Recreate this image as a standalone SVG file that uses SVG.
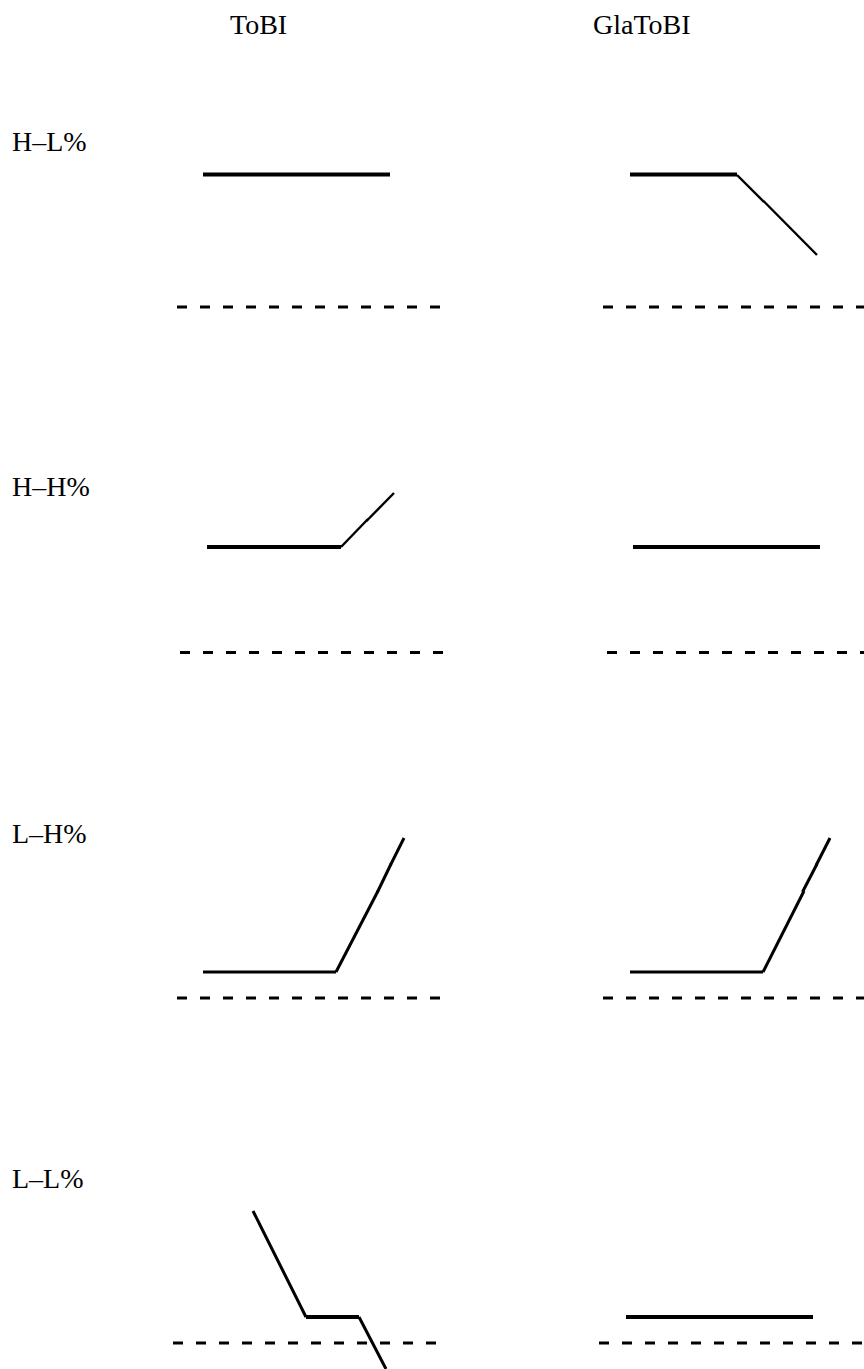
<svg xmlns="http://www.w3.org/2000/svg" width="864" height="1369" viewBox="0 0 864 1369">
<style>
text{font-family:"Liberation Serif","Times New Roman",serif;font-size:28px;fill:#000}
.thick{stroke:#000;stroke-width:4;fill:none}
.mid{stroke:#000;stroke-width:3;fill:none}
.thin{stroke:#000;stroke-width:2.4;fill:none}
.dash{stroke:#000;stroke-width:3;stroke-dasharray:10 13;fill:none}
</style>
<rect width="864" height="1369" fill="#fff"/>
<g id="headers">
<text x="230" y="34">ToBI</text>
<text x="593" y="34">GlaToBI</text>
</g>
<g id="labels">
<text x="12" y="151">H–L%</text>
<text x="12" y="496">H–H%</text>
<text x="12" y="843">L–H%</text>
<text x="12" y="1188">L–L%</text>
</g>
<g id="baselines">
<line class="dash" x1="177" y1="307" x2="445" y2="307"/>
<line class="dash" x1="603" y1="307" x2="864" y2="307"/>
<line class="dash" x1="180" y1="652.5" x2="448" y2="652.5"/>
<line class="dash" x1="607" y1="652.5" x2="864" y2="652.5"/>
<line class="dash" x1="177" y1="998" x2="445" y2="998"/>
<line class="dash" x1="603" y1="998" x2="864" y2="998"/>
<line class="dash" x1="173" y1="1343" x2="441" y2="1343"/>
<line class="dash" x1="599" y1="1343" x2="864" y2="1343"/>
</g>
<g id="tobi-HL">
<line class="thick" x1="203" y1="174.5" x2="390" y2="174.5"/>
</g>
<g id="glatobi-HL">
<line class="thick" x1="630" y1="174.5" x2="737" y2="174.5"/>
<line class="thin" x1="737" y1="175" x2="764" y2="202"/>
<line class="thin" x1="763.5" y1="201" x2="817" y2="255"/>
</g>
<g id="tobi-HH">
<line class="thick" x1="207" y1="547" x2="341" y2="547"/>
<line class="thin" x1="341" y1="547" x2="368" y2="519"/>
<line class="thin" x1="366.5" y1="521" x2="394" y2="493"/>
</g>
<g id="glatobi-HH">
<line class="thick" x1="633" y1="547" x2="820" y2="547"/>
</g>
<g id="tobi-LH">
<line class="mid" x1="203" y1="972" x2="336" y2="972"/>
<line class="mid" x1="336" y1="972" x2="378" y2="891"/>
<line class="mid" x1="377.5" y1="892" x2="391" y2="864"/>
<line class="mid" x1="390.5" y1="865" x2="404" y2="838"/>
</g>
<g id="glatobi-LH">
<line class="mid" x1="630" y1="972" x2="763" y2="972"/>
<line class="mid" x1="763" y1="972" x2="804" y2="891"/>
<line class="mid" x1="802.5" y1="892" x2="817" y2="864"/>
<line class="mid" x1="816" y1="865.5" x2="830" y2="838"/>
</g>
<g id="tobi-LL">
<polyline class="mid" points="253,1211 266,1237 306,1317"/>
<line class="thick" x1="306" y1="1317" x2="359" y2="1317"/>
<line class="mid" x1="359" y1="1317" x2="386" y2="1369"/>
</g>
<g id="glatobi-LL">
<line class="thick" x1="626" y1="1317" x2="813" y2="1317"/>
</g>
</svg>
